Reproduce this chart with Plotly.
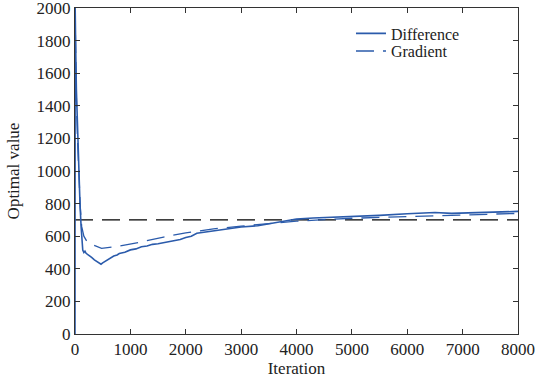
import plotly.graph_objects as go

diff_x = [0, 3, 8, 15, 25, 40, 55, 70, 90, 110, 125, 140, 160, 180, 200, 250, 300, 350, 400, 440, 470,
          500, 540, 580, 620, 650, 700, 760, 800, 900, 1000, 1100, 1200, 1300, 1400, 1500, 1600, 1700,
          1800, 1900, 2000, 2100, 2200, 2350, 2500, 2650, 2800,
          3000, 3300, 3600, 3800, 4000, 4300, 4600, 5000, 5500, 6000, 6500, 6800, 7000, 7500, 8000]
diff_y = [0, 2000, 1850, 1700, 1500, 1300, 1120, 950, 800, 660, 580, 515, 500, 508, 495, 485, 470, 455, 445, 432, 428,
          436, 445, 452, 462, 472, 478, 485, 494, 502, 516, 522, 535, 540, 550, 554, 560, 566,
          573, 580, 592, 600, 618, 625, 636, 642, 650,
          656, 664, 680, 690, 705, 712, 716, 720, 728, 738, 745, 740, 742, 745, 752]

grad_x = [0, 10, 25, 45, 70, 95, 120, 160, 220, 300, 480, 800, 1200, 1600, 2000, 2500, 3000, 3500,
          4000, 4500, 5000, 6000, 7000, 8000]
grad_y = [2000, 1700, 1450, 1200, 950, 780, 660, 600, 565, 550, 525, 540, 565, 595, 620, 645, 662, 678,
          692, 702, 710, 720, 730, 740]

ref_x = [0, 8000]
ref_y = [700, 700]

x_ticks = [0, 1000, 2000, 3000, 4000, 5000, 6000, 7000, 8000]
y_ticks = [0, 200, 400, 600, 800, 1000, 1200, 1400, 1600, 1800, 2000]

blue = "#2b5bab"
serif = "Liberation Serif, Times New Roman, serif"
fig = go.Figure()
fig.add_trace(go.Scatter(x=ref_x, y=ref_y, mode="lines", showlegend=False,
                         line=dict(color="black", width=1.3, dash="18px,9px")))
fig.add_trace(go.Scatter(x=diff_x, y=diff_y, mode="lines", name="Difference", legend="legend",
                         line=dict(color=blue, width=1.6)))
fig.add_trace(go.Scatter(x=grad_x, y=grad_y, mode="lines", name="Gradient", legend="legend2",
                         line=dict(color=blue, width=1.3, dash="18px,9px")))

def f(size):
    return dict(family=serif, size=size, color="#222")

axis_common = dict(showgrid=False, zeroline=False, showline=True, linecolor="#333", linewidth=1,
                   mirror="allticks", ticks="inside", ticklen=5, tickcolor="#333", automargin=False,
                   ticklabeloverflow="allow")
fig.update_layout(
    width=539, height=385,
    margin=dict(l=75, r=21, t=8, b=51),
    paper_bgcolor="white", plot_bgcolor="white",
    font=f(17),
    xaxis=dict(range=[0, 8000], tickvals=x_ticks, tickfont=f(17),
               title=dict(text="Iteration", font=f(17), standoff=2), **axis_common),
    yaxis=dict(range=[0, 2000], tickvals=y_ticks, tickfont=f(17),
               title=dict(text="Optimal value", font=f(17), standoff=12), **axis_common),
    legend=dict(x=0.623, y=0.974, xanchor="left", yanchor="top", bgcolor="rgba(0,0,0,0)",
                font=f(16), itemwidth=30),
    legend2=dict(x=0.623, y=0.920, xanchor="left", yanchor="top", bgcolor="rgba(0,0,0,0)",
                 font=f(16), itemwidth=30),
)
fig.write_html("out.html", config={"displayModeBar": False},
               post_script="document.body.style.margin='0';")
